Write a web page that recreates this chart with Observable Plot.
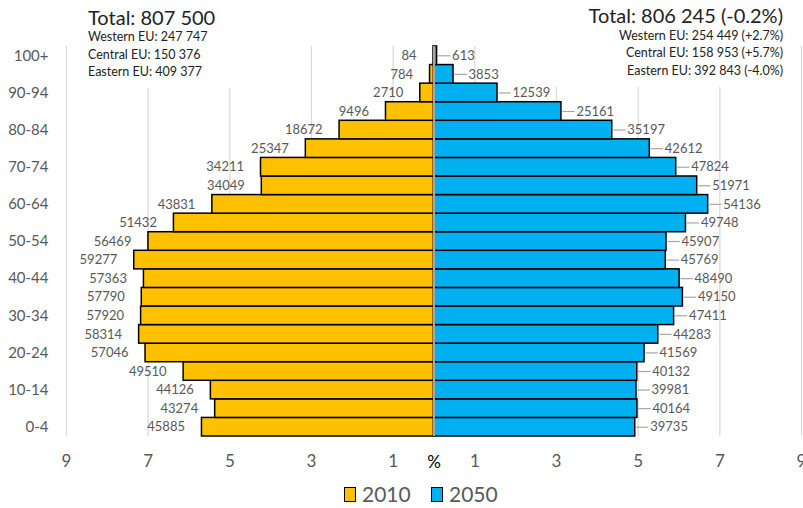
<!DOCTYPE html>
<html>
<head>
<meta charset="utf-8">
<script src="https://cdn.jsdelivr.net/npm/d3@7"></script>
<script src="https://cdn.jsdelivr.net/npm/@observablehq/plot@0.6"></script>
<style>
  body { margin: 0; background: #fff; font-family: Lato, "Open Sans", sans-serif; }
  #wrap { position: relative; width: 803px; height: 508px; overflow: hidden; }
  .box { position: absolute; background: #fff; color: #222; }
  .line { position: absolute; white-space: nowrap; }
  #legend { position: absolute; top: 480px; left: 0; width: 803px; height: 28px; }
  .sw { position: absolute; width: 12px; height: 15px; border: 1px solid #000; box-sizing: border-box; }
  .lt { position: absolute; font-size: 21px; color: #595959; line-height: 28px; }
</style>
</head>
<body>
<div id="wrap">
  <div id="chart"></div>
  <div class="box" style="left:76px;top:0;width:170px;height:88px;">
    <div class="line" id="t1" style="left:12px;top:6px;font-size:20px;line-height:22px;"></div>
    <div class="line" id="l1" style="left:12px;top:28px;font-size:12.5px;line-height:18px;"></div>
    <div class="line" id="l2" style="left:12px;top:45.5px;font-size:12.5px;line-height:18px;"></div>
    <div class="line" id="l3" style="left:12px;top:63px;font-size:12.5px;line-height:18px;"></div>
  </div>
  <div class="box" style="left:540px;top:0;width:252px;height:87px;">
    <div class="line" id="t2" style="right:9px;top:4px;font-size:20px;line-height:22px;text-align:right;"></div>
    <div class="line" id="r1" style="right:9px;top:27px;font-size:12.5px;line-height:18px;text-align:right;"></div>
    <div class="line" id="r2" style="right:9px;top:44px;font-size:12.5px;line-height:18px;text-align:right;"></div>
    <div class="line" id="r3" style="right:9px;top:62px;font-size:12.5px;line-height:18px;text-align:right;"></div>
  </div>
  <div id="legend"></div>
</div>
<script>
// Age groups, bottom (0-4) to top (100+)
const ages = ["0-4","5-9","10-14","15-19","20-24","25-29","30-34","35-39","40-44","45-49",
              "50-54","55-59","60-64","65-69","70-74","75-79","80-84","85-89","90-94","95-99","100+"];
const pop2010 = [45885,43274,44126,49510,57046,58314,57920,57790,57363,59277,
                 56469,51432,43831,34049,34211,25347,18672,9496,2710,784,84];
const pop2050 = [39735,40164,39981,40132,41569,44283,47411,49150,48490,45769,
                 45907,49748,54136,51971,47824,42612,35197,25161,12539,3853,613];
const years = ["2010","2050"];
const colors = ["#FFC000","#00B0F0"];
const titles = ["Total: 807 500","Total: 806 245 (-0.2%)"];
const regions2010 = ["Western EU: 247 747","Central EU: 150 376","Eastern EU: 409 377"];
const regions2050 = ["Western EU: 254 449 (+2.7%)","Central EU: 158 953 (+5.7%)","Eastern EU: 392 843 (-4.0%)"];
const xTicks = [-9,-7,-5,-3,-1,1,3,5,7,9];
const yTicks = ["0-4","10-14","20-24","30-34","40-44","50-54","60-64","70-74","80-84","90-94","100+"];

const total2010 = 807500, total2050 = 806245;
const rows = ages.map((a, i) => ({
  age: a,
  v2010: pop2010[i], v2050: pop2050[i],
  p2010: pop2010[i] / total2010 * 100,
  p2050: pop2050[i] / total2050 * 100
}));

const grey = "#595959";
const chart = Plot.plot({
  width: 803, height: 480,
  marginLeft: 66, marginRight: 2, marginTop: 46, marginBottom: 44,
  style: { fontFamily: "Lato, 'Open Sans', sans-serif", background: "#fff", overflow: "visible" },
  x: { domain: [-9, 9] },
  y: { type: "band", domain: ages.slice().reverse(), padding: 0, round: false },
  marks: [
    Plot.ruleX(xTicks, { stroke: "#d9d9d9", strokeWidth: 1.2 }),
    Plot.barX(rows, { x1: 0, x2: d => -d.p2010, y: "age", fill: colors[0], stroke: "#000", strokeWidth: 1.5 }),
    Plot.barX(rows, { x1: 0, x2: d => d.p2050, y: "age", fill: colors[1], stroke: "#000", strokeWidth: 1.5 }),
    Plot.ruleX([0], { stroke: "#a6a6a6", strokeWidth: 2 }),
    Plot.text(rows, { x: d => -d.p2010, y: "age", text: d => String(d.v2010), textAnchor: "end", dx: -17, fontSize: 13, fill: grey }),
    Plot.link(rows, { x1: d => d.p2050, x2: d => d.p2050 + 0.3, y1: "age", y2: "age", dx: 1, stroke: "#a6a6a6", strokeWidth: 1.2 }),
    Plot.text(rows, { x: d => d.p2050, y: "age", text: d => String(d.v2050), textAnchor: "start", dx: 15, fontSize: 13, fill: grey }),
    Plot.axisX(xTicks, { tickSize: 0, tickPadding: 18, fontSize: 17, fill: grey, tickFormat: d => Math.abs(d), label: null }),
    Plot.text(["%"], { x: 0, frameAnchor: "bottom", dy: 31, fontSize: 17, fill: "#000" }),
    Plot.axisY(yTicks, { tickSize: 0, tickPadding: 18, fontSize: 15, fill: grey, label: null })
  ]
});
document.getElementById("chart").appendChild(chart);

document.getElementById("t1").textContent = titles[0];
document.getElementById("t2").textContent = titles[1];
["l1","l2","l3"].forEach((id, i) => document.getElementById(id).textContent = regions2010[i]);
["r1","r2","r3"].forEach((id, i) => document.getElementById(id).textContent = regions2050[i]);

const leg = document.getElementById("legend");
const legPos = [[344, 362], [431, 449]];
years.forEach((y, i) => {
  const sw = document.createElement("div");
  sw.className = "sw";
  sw.style.left = legPos[i][0] + "px";
  sw.style.top = "7px";
  sw.style.background = colors[i];
  leg.appendChild(sw);
  const t = document.createElement("div");
  t.className = "lt";
  t.style.left = legPos[i][1] + "px";
  t.style.top = "0px";
  t.textContent = y;
  leg.appendChild(t);
});
</script>
</body>
</html>
